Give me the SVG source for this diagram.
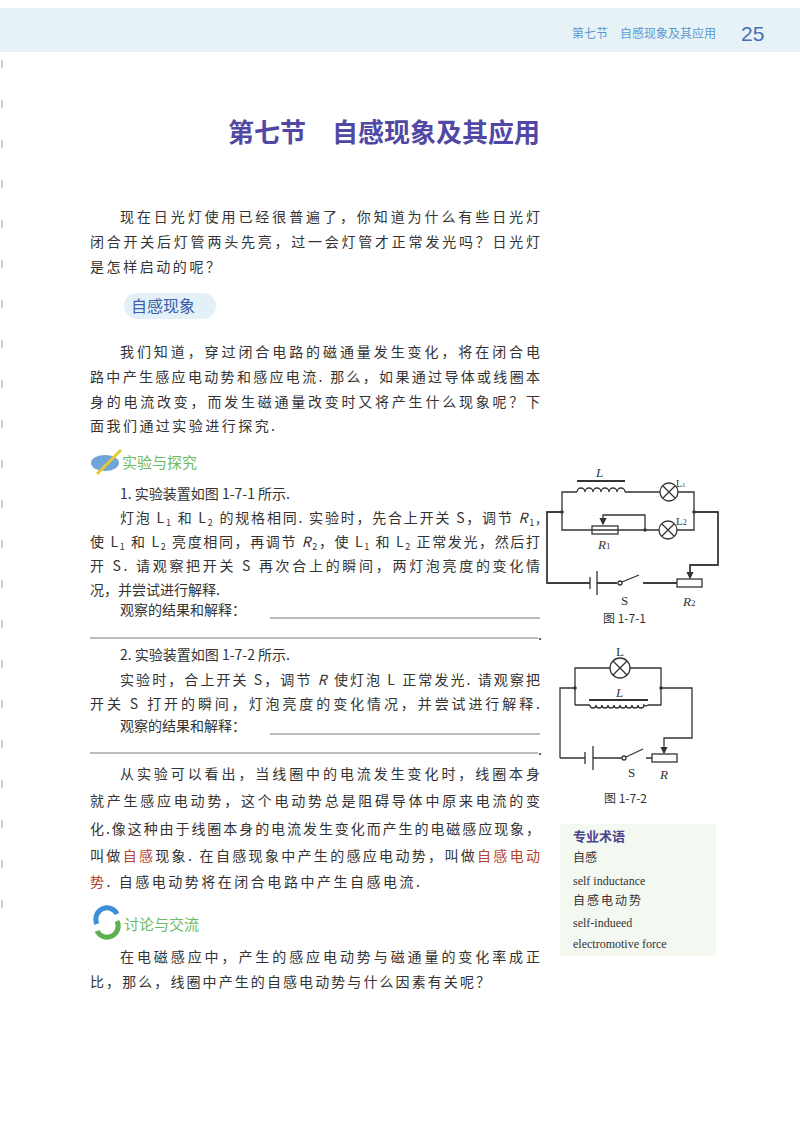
<svg xmlns="http://www.w3.org/2000/svg" width="800" height="1132" viewBox="0 0 800 1132">
<style>
.b{font-family:"Noto Sans CJK SC","Liberation Serif",serif;font-size:14px;fill:#333}
.s{font-family:"Liberation Serif","Noto Sans CJK SC",serif;font-size:14px;fill:#333}
.w{fill:none;stroke:#333;stroke-width:1.3}
.red{fill:#b5432f}
.sub{font-size:9px}
.g{font-family:"Noto Sans CJK SC",sans-serif;font-size:15px;fill:#6dbb63}
.lbl{font-family:"Liberation Serif",serif;font-size:13px;fill:#333}
.it{font-style:italic}
</style>
<defs>
<marker id="ar" viewBox="0 0 6 6" refX="5" refY="3" markerWidth="6" markerHeight="6" orient="auto"><path d="M0,0L6,3L0,6z" fill="#333"/></marker>
</defs>
<rect width="800" height="1132" fill="#fff"/>
<g id="binding" stroke="#999" stroke-width="1">
<path d="M2,20v8M2,60v8M2,100v8M2,140v8M2,180v8M2,220v8M2,260v8M2,300v8M2,340v8M2,380v8M2,420v8M2,460v8M2,500v8M2,540v8M2,580v8M2,620v8M2,660v8M2,700v8M2,740v8M2,780v8M2,820v8M2,860v8M2,900v8"/>
</g>
<g id="header">
<rect x="0" y="8" width="800" height="44" fill="#e6f2f6"/>
<text x="572" y="38" font-family="Noto Sans CJK SC,sans-serif" font-size="12" fill="#5b9bd0">第七节　自感现象及其应用</text>
<text x="741" y="41" font-family="Liberation Sans,sans-serif" font-size="21" fill="#4a6fb5">25</text>
</g>
<text id="title" x="228" y="142" font-family="Noto Sans CJK SC,sans-serif" font-size="26" font-weight="bold" fill="#5048a4">第七节　自感现象及其应用</text>
<g id="p1">
<text class="b" x="120" y="222" textLength="420" lengthAdjust="spacing">现在日光灯使用已经很普遍了，你知道为什么有些日光灯</text>
<text class="b" x="90" y="247" textLength="450" lengthAdjust="spacing">闭合开关后灯管两头先亮，过一会灯管才正常发光吗？日光灯</text>
<text class="b" x="90" y="272" textLength="130" lengthAdjust="spacing">是怎样启动的呢？</text>
</g>
<g id="sec1">
<rect x="124" y="293" width="92" height="26" rx="13" fill="#e3f0f8"/>
<text x="131" y="312" font-family="Noto Sans CJK SC,sans-serif" font-size="16" fill="#3b5fa8">自感现象</text>
</g>
<g id="p2">
<text class="b" x="120" y="357" textLength="420" lengthAdjust="spacing">我们知道，穿过闭合电路的磁通量发生变化，将在闭合电</text>
<text class="b" x="90" y="382" textLength="450" lengthAdjust="spacing">路中产生感应电动势和感应电流. 那么，如果通过导体或线圈本</text>
<text class="b" x="90" y="407" textLength="450" lengthAdjust="spacing">身的电流改变，而发生磁通量改变时又将产生什么现象呢？下</text>
<text class="b" x="90" y="431" textLength="185" lengthAdjust="spacing">面我们通过实验进行探究.</text>
</g>
<g id="exp-head">
<ellipse cx="105" cy="463" rx="14" ry="8" fill="#4a90d0" opacity="0.8"/>
<path d="M97,474L121,450" stroke="#e8c930" stroke-width="3"/>
<text class="g" x="122" y="468">实验与探究</text>
</g>
<g id="exp1">
<text class="b" x="120" y="499">1. 实验装置如图 1-7-1 所示.</text>
<text class="b" x="120" y="523" textLength="420" lengthAdjust="spacing">灯泡 L<tspan class="sub" dy="3">1</tspan><tspan dy="-3"> 和 L</tspan><tspan class="sub" dy="3">2</tspan><tspan dy="-3"> 的规格相同. 实验时，先合上开关 S，调节 </tspan><tspan class="it">R</tspan><tspan class="sub" dy="3">1</tspan><tspan dy="-3">,</tspan></text>
<text class="b" x="90" y="547" textLength="450" lengthAdjust="spacing">使 L<tspan class="sub" dy="3">1</tspan><tspan dy="-3"> 和 L</tspan><tspan class="sub" dy="3">2</tspan><tspan dy="-3"> 亮度相同，再调节 </tspan><tspan class="it">R</tspan><tspan class="sub" dy="3">2</tspan><tspan dy="-3">，使 L</tspan><tspan class="sub" dy="3">1</tspan><tspan dy="-3"> 和 L</tspan><tspan class="sub" dy="3">2</tspan><tspan dy="-3"> 正常发光，然后打</tspan></text>
<text class="b" x="90" y="571" textLength="450" lengthAdjust="spacing">开 S. 请观察把开关 S 再次合上的瞬间，两灯泡亮度的变化情</text>
<text class="b" x="90" y="595">况，并尝试进行解释.</text>
<text class="b" x="120" y="615">观察的结果和解释：</text>
<path d="M270,618H540M90,638H538" stroke="#555" stroke-width="0.8"/>
<text class="b" x="538" y="640">.</text>
<text class="b" x="120" y="660">2. 实验装置如图 1-7-2 所示.</text>
<text class="b" x="120" y="685" textLength="420" lengthAdjust="spacing">实验时，合上开关 S，调节 <tspan class="it">R</tspan> 使灯泡 L 正常发光. 请观察把</text>
<text class="b" x="90" y="709" textLength="450" lengthAdjust="spacing">开关 S 打开的瞬间，灯泡亮度的变化情况，并尝试进行解释.</text>
<text class="b" x="120" y="731">观察的结果和解释：</text>
<path d="M270,734H540M90,753H538" stroke="#555" stroke-width="0.8"/>
<text class="b" x="538" y="755">.</text>
</g>
<g id="p3">
<text class="b" x="120" y="779" textLength="420" lengthAdjust="spacing">从实验可以看出，当线圈中的电流发生变化时，线圈本身</text>
<text class="b" x="90" y="806" textLength="450" lengthAdjust="spacing">就产生感应电动势，这个电动势总是阻碍导体中原来电流的变</text>
<text class="b" x="90" y="834" textLength="450" lengthAdjust="spacing">化.像这种由于线圈本身的电流发生变化而产生的电磁感应现象，</text>
<text class="b" x="90" y="861" textLength="450" lengthAdjust="spacing">叫做<tspan class="red">自感</tspan>现象. 在自感现象中产生的感应电动势，叫做<tspan class="red">自感电动</tspan></text>
<text class="b" x="90" y="887" textLength="330" lengthAdjust="spacing"><tspan class="red">势</tspan>. 自感电动势将在闭合电路中产生自感电流.</text>
</g>
<g id="disc-head">
<path d="M97,924A11,11 0 0 1 117,914" stroke="#3f8fd8" stroke-width="5" fill="none"/>
<path d="M117,921A11,11 0 0 1 97,931" stroke="#5db04f" stroke-width="5" fill="none"/>
<text class="g" x="124" y="930">讨论与交流</text>
</g>
<g id="p4">
<text class="b" x="120" y="962" textLength="420" lengthAdjust="spacing">在电磁感应中，产生的感应电动势与磁通量的变化率成正</text>
<text class="b" x="90" y="987" textLength="400" lengthAdjust="spacing">比，那么，线圈中产生的自感电动势与什么因素有关呢？</text>
</g>
<g id="glossary">
<rect x="560" y="824" width="156" height="132" fill="#f3f8f1"/>
<text x="573" y="841" font-family="Noto Sans CJK SC,serif" font-size="13" font-weight="bold" fill="#4a4490">专业术语</text>
<text class="b" x="573" y="862" font-size="12" style="font-size:12px">自感</text>
<text class="s" x="573" y="885" style="font-size:12px">self inductance</text>
<text class="b" x="573" y="905" style="font-size:12px" letter-spacing="2">自感电动势</text>
<text class="s" x="573" y="927" style="font-size:12px">self-indueed</text>
<text class="s" x="573" y="948" style="font-size:12px">electromotive force</text>
</g>
<g id="fig1">
<text class="lbl it" x="596" y="477">L</text>
<path d="M577,481H625" stroke="#333" stroke-width="2"/>
<path class="w" d="M562,512V492H577M577,492a4,4 0 0 1 8,0a4,4 0 0 1 8,0a4,4 0 0 1 8,0a4,4 0 0 1 8,0a4,4 0 0 1 8,0a4,4 0 0 1 8,0M625,492H660M678,492H694V530H677M659,530H592M562,512V530H592"/>
<circle class="w" cx="669" cy="492" r="9"/>
<path class="w" d="M663,486l12,12M675,486l-12,12"/>
<circle class="w" cx="668" cy="530" r="9"/>
<path class="w" d="M662,524l12,12M674,524l-12,12"/>
<text class="lbl" x="676" y="487" style="font-size:10px">L<tspan style="font-size:7px">1</tspan></text>
<text class="lbl" x="676" y="525" style="font-size:11px">L<tspan style="font-size:8px">2</tspan></text>
<rect class="w" x="592" y="526" width="26" height="8" fill="#fff"/>
<path class="w" d="M645,530V515H603V524" marker-end="url(#ar)"/>
<circle cx="562" cy="512" r="1.8" fill="#333"/><circle cx="694" cy="512" r="1.8" fill="#333"/><circle cx="645" cy="530" r="1.8" fill="#333"/>
<text class="lbl it" x="598" y="549">R<tspan style="font-size:9px;font-style:normal">1</tspan></text>
<path class="w" d="M562,512H547V583H590M597,583H617M643,583H677M694,512H718V565H690V578" marker-end="url(#ar)"/>
<path class="w" d="M562,512H547V583H590M597,583H617M643,583H677M694,512H718V565H690V578"/>
<path stroke="#333" stroke-width="1.3" d="M590,577V589M597,571V595"/>
<circle class="w" cx="620" cy="583" r="2" fill="#fff"/>
<path class="w" d="M622,582L639,575"/>
<rect class="w" x="677" y="579" width="25" height="8" fill="#fff"/>
<text class="lbl" x="621" y="605">S</text>
<text class="lbl it" x="683" y="606">R<tspan style="font-size:9px;font-style:normal">2</tspan></text>
<text class="b" x="603" y="623" style="font-size:12px">图 1-7-1</text>
</g>
<g id="fig2">
<text class="lbl" x="616" y="656">L</text>
<circle class="w" cx="620" cy="668" r="10"/>
<path class="w" d="M613,661l14,14M627,661l-14,14"/>
<path class="w" d="M575,705V668H610M630,668H661V705H648M575,705H590M560,758V688H575M661,688H692V738H664V753" marker-end="url(#ar)"/>
<path class="w" d="M590,705a3,3 0 0 0 6,0a3,3 0 0 0 6,0a3,3 0 0 0 6,0a3,3 0 0 0 6,0a3,3 0 0 0 6,0a3,3 0 0 0 6,0a3,3 0 0 0 6,0a3,3 0 0 0 6,0a3,3 0 0 0 6,0a3,3 0 0 0 4,0"/>
<path stroke="#333" stroke-width="2" d="M589,700H648"/>
<text class="lbl it" x="616" y="697">L</text>
<circle cx="575" cy="688" r="1.8" fill="#333"/><circle cx="661" cy="688" r="1.8" fill="#333"/>
<path class="w" d="M560,758H585M593,758H622M646,758H652"/>
<path stroke="#333" stroke-width="1.3" d="M585,752V764M593,746V770"/>
<circle class="w" cx="624" cy="758" r="2" fill="#fff"/>
<path class="w" d="M626,757L643,749"/>
<rect class="w" x="652" y="754" width="25" height="8" fill="#fff"/>
<text class="lbl" x="628" y="777">S</text>
<text class="lbl it" x="660" y="779">R</text>
<text class="b" x="604" y="803" style="font-size:12px">图 1-7-2</text>
</g>
</svg>
